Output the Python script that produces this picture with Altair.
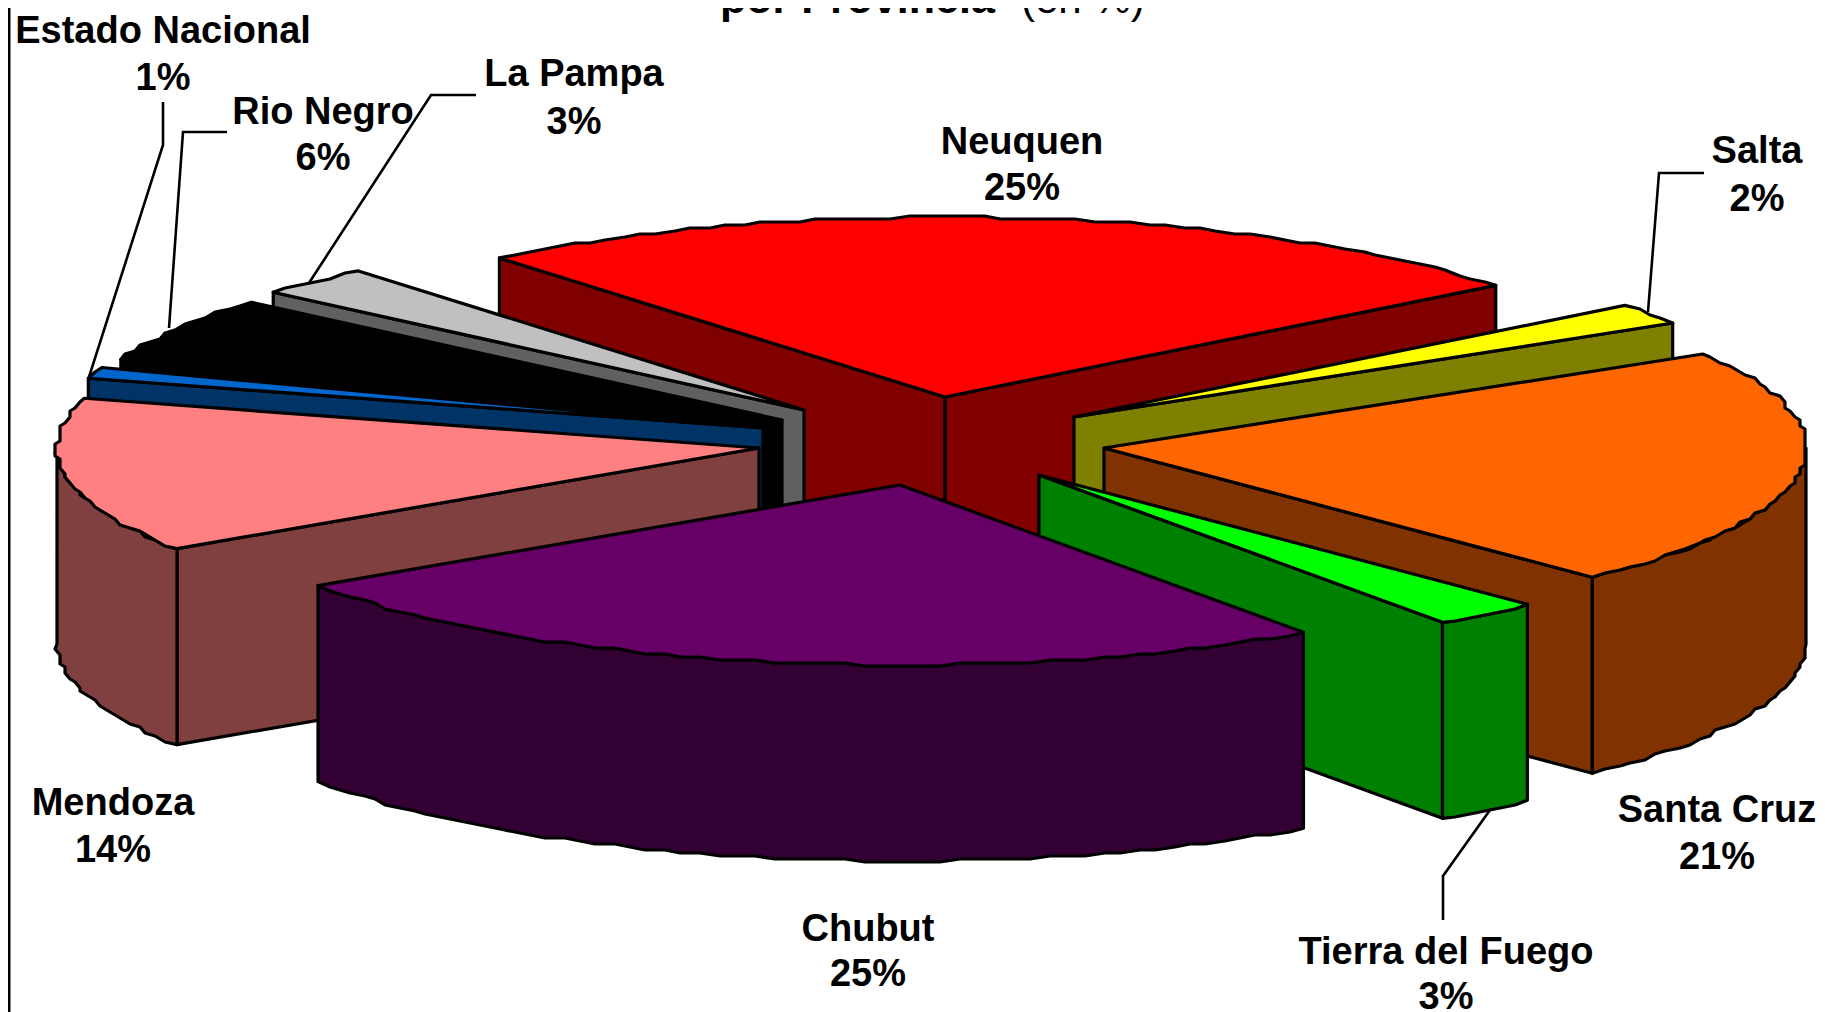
import math
import altair as alt
import pandas as pd

# ---- values -----------------------------------------------------------
provinces = ["Neuquen", "Salta", "Santa Cruz", "Tierra del Fuego", "Chubut",
             "Mendoza", "Estado Nacional", "Rio Negro", "La Pampa"]
shares = [25.3, 1.9, 21.5, 2.5, 25.3, 13.9, 1.0, 5.9, 2.7]
pct_labels = ["25%", "2%", "21%", "3%", "25%", "14%", "1%", "6%", "3%"]
top_colors = ["#FF0000", "#FFFF00", "#FF6600", "#00FF00", "#660066",
              "#FF8080", "#0066CC", "#000000", "#C0C0C0"]
side_colors = ["#800000", "#808000", "#803300", "#008000", "#330033",
               "#804040", "#003366", "#000000", "#606060"]

# ---- layout (reference pixels) ----------------------------------------
MARGIN = 8
W, H = 1825 - 2 * MARGIN, 1012 - MARGIN
RX, RY, DEPTH = 702.0, 180.0, 196.0
START_ANGLE = -39.4
# exploded position of every slice's apex
apex = {"Neuquen": (945, 397), "Salta": (1074, 417), "Santa Cruz": (1104, 448),
        "Tierra del Fuego": (1039, 475), "Chubut": (900, 485), "Mendoza": (759, 448),
        "Estado Nacional": (763, 428), "Rio Negro": (782, 420), "La Pampa": (804, 410)}
# name / percent label centres
label_pos = {"Neuquen": (1022, 143, 189), "Salta": (1757, 152, 200),
             "Santa Cruz": (1717, 811, 858), "Tierra del Fuego": (1446, 953, 998),
             "Chubut": (868, 930, 975), "Mendoza": (113, 804, 851),
             "Estado Nacional": (163, 32, 79), "Rio Negro": (323, 113, 159),
             "La Pampa": (574, 75, 123)}
# leader lines
leaders = {"Estado Nacional": [(163, 102), (163, 145), (89, 377)],
           "Rio Negro": [(227, 132), (183, 132), (169, 328)],
           "La Pampa": [(476, 95), (431, 95), (309, 283)],
           "Salta": [(1704, 173), (1659, 173), (1648, 312)],
           "Tierra del Fuego": [(1490, 810), (1443, 876), (1443, 920)]}
PAINT_ORDER = ["Neuquen", "La Pampa", "Rio Negro", "Estado Nacional", "Mendoza",
               "Salta", "Santa Cruz", "Tierra del Fuego", "Chubut"]
STEP_X, STEP_Y = 5, 3


def rim(center, deg):
    r = math.radians(deg)
    return center[0] + RX * math.sin(r), center[1] - RY * math.cos(r)


def rim_points(center, a0, a1):
    """Rim sampled from a0 to a1, coarsely rounded like the low-res original."""
    n = max(2, int((a1 - a0) / 1.5))
    pts = []
    for i in range(n + 1):
        x, y = rim(center, a0 + (a1 - a0) * i / n)
        if 0 < i < n:
            x, y = round(x / STEP_X) * STEP_X, round(y / STEP_Y) * STEP_Y
        pts.append((x, y))
    return pts


def feature(points, fill):
    ring = [[p[0] - MARGIN, p[1] - MARGIN] for p in points]
    ring.append(ring[0])
    return {"type": "Feature", "properties": {"fill": fill},
            "geometry": {"type": "Polygon", "coordinates": [ring]}}


angles = {}
a = START_ANGLE
for name, s in zip(provinces, shares):
    angles[name] = (a, a + s * 3.6)
    a += s * 3.6

faces = []
for name in PAINT_ORDER:
    i = provinces.index(name)
    c = apex[name]
    a0, a1 = angles[name]
    mid = rim(c, (a0 + a1) / 2)
    mx, my = mid[0] - c[0], mid[1] - c[1]
    for edge in (a0, a1):
        p = rim(c, edge)
        ex, ey = p[0] - c[0], p[1] - c[1]
        if (ex * my - ey * mx) * (1 if ex > 0 else -1) < 0:
            faces.append(feature([c, p, (p[0], p[1] + DEPTH), (c[0], c[1] + DEPTH)],
                                 side_colors[i]))
    lo, hi = max(a0, 90), min(a1, 270)
    if lo < hi:
        pts = rim_points(c, lo, hi)
        faces.append(feature(pts + [(x, y + DEPTH) for x, y in reversed(pts)], side_colors[i]))
    faces.append(feature([c] + rim_points(c, a0, a1), top_colors[i]))

leader_features = [
    {"type": "Feature", "properties": {},
     "geometry": {"type": "LineString",
                  "coordinates": [[x - MARGIN, y - MARGIN] for x, y in pts]}}
    for pts in leaders.values()
]

rows = []
for name, pct in zip(provinces, pct_labels):
    x, y1, y2 = label_pos[name]
    rows.append({"x": x - MARGIN, "y": y1 - MARGIN, "t": name})
    rows.append({"x": x - MARGIN, "y": y2 - MARGIN, "t": pct})
labels = pd.DataFrame(rows)
title_bold = pd.DataFrame([{"x": 720 - MARGIN, "y": 5, "t": "por Provincia"}])
title_reg = pd.DataFrame([{"x": 1021 - MARGIN, "y": 5, "t": "(en %)"}])
edge_line = pd.DataFrame([{"x": 1, "y": 0, "y2": H}])

proj = dict(type="identity", scale=1, translate=[0, 0])
FONT = "Liberation Sans"

slices = (alt.Chart(alt.Data(values=faces))
          .mark_geoshape(stroke="black", strokeWidth=3.2, strokeJoin="round")
          .encode(fill=alt.Fill("properties.fill:N", scale=None))
          .project(**proj))
lines = (alt.Chart(alt.Data(values=leader_features))
         .mark_geoshape(filled=False, stroke="black", strokeWidth=2.6)
         .project(**proj))
text = (alt.Chart(labels)
        .mark_text(font=FONT, fontWeight="bold", fontSize=38, align="center",
                   baseline="middle", color="black")
        .encode(x=alt.X("x:Q", scale=None, axis=None),
                y=alt.Y("y:Q", scale=None, axis=None), text="t:N"))
t1 = (alt.Chart(title_bold)
      .mark_text(font=FONT, fontWeight="bold", fontSize=43, align="left",
                 baseline="alphabetic", color="black")
      .encode(x=alt.X("x:Q", scale=None, axis=None),
              y=alt.Y("y:Q", scale=None, axis=None), text="t:N"))
t2 = (alt.Chart(title_reg)
      .mark_text(font=FONT, fontSize=42, align="left", baseline="alphabetic", color="black")
      .encode(x=alt.X("x:Q", scale=None, axis=None),
              y=alt.Y("y:Q", scale=None, axis=None), text="t:N"))
frame = (alt.Chart(edge_line)
         .mark_rule(color="black", strokeWidth=3)
         .encode(x=alt.X("x:Q", scale=None, axis=None),
                 y=alt.Y("y:Q", scale=None, axis=None), y2="y2:Q"))

chart = (alt.layer(frame, slices, lines, text, t1, t2)
         .properties(width=W, height=H, padding=0, background="white",
                     autosize=alt.AutoSizeParams(type="none"))
         .configure_view(stroke=None))

chart.save("out.html", embed_options={"renderer": "svg", "actions": False})
